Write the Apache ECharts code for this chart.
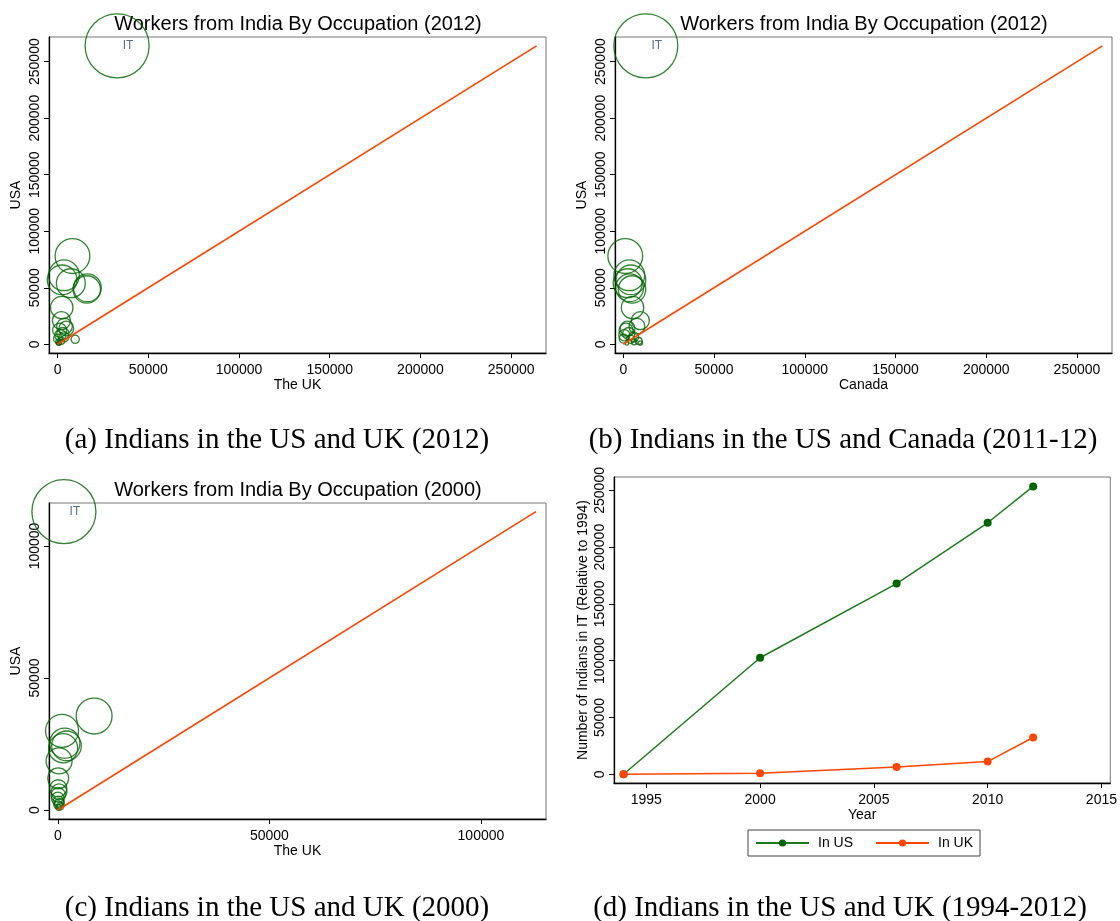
<!DOCTYPE html>
<html><head><meta charset="utf-8">
<script src="https://cdn.jsdelivr.net/npm/echarts@6/dist/echarts.min.js"></script>
<style>html,body{margin:0;padding:0;background:#fff}#c{width:1120px;height:921px}</style>
</head><body><div id="c"></div>
<script>
// ---------- DATA ----------
// 2012 occupations (first = IT)
const occ2012Labels = ['IT','','','','','','','','','','','','','','','','','','','',''];
const us2012     = [264000, 78000, 61000, 57000, 54000, 50000, 48500, 32500, 21000, 16000, 14000, 12500, 9500, 8000, 6500, 5000, 4400, 3000, 2000, 1200, 800];
const uk2012     = [32800, 8200, 3500, 2500, 7300, 16400, 16100, 2300, 2100, 3800, 4800, 1100, 2900, 1500, 3500, 200, 9700, 2000, 500, 1000, 300];
const canada2012 = [12400, 1100, 3300, 4200, 2400, 3500, 4800, 5100, 9400, 7500, 2400, 1500, 3000, 600, 5700, 200, 4000, 8500, 6000, 9400, 2000];
// 2000 occupations (first = IT)
const occ2000Labels = ['IT','','','','','','','','','','','','','','','',''];
const us2000 = [113000, 35600, 30000, 25300, 24300, 23400, 18600, 12000, 8200, 6900, 5700, 4400, 3200, 1900, 900, 2600, 1400];
const uk2000 = [1440, 8580, 1000, 1650, 2050, 1250, 300, 100, 100, 300, 100, 0, 150, 50, 200, 400, 600];
// IT workers over time (relative to 1994)
const years = [1994, 2000, 2006, 2010, 2012];
const itInUS = [0, 102600, 167900, 221500, 253500];
const itInUK = [0, 900, 6500, 11200, 32400];
// tick labels
const ticks2012 = [0, 50000, 100000, 150000, 200000, 250000];
const ticks2000 = [0, 50000, 100000];
const yearTicks = [1995, 2000, 2005, 2010, 2015];
const itTicks = [0, 50000, 100000, 150000, 200000, 250000];

// ---------- STYLE ----------
const SANS = "'Liberation Sans', Arial, sans-serif";
const SERIF = "'Liberation Serif', 'Times New Roman', serif";
const GREEN = '#006400';
const ORANGE = '#ff4500';

function axis(gridIndex, min, max, ticks, name, isY, nameGap) {
  return {
    type: 'value', gridIndex, min, max, name, nameLocation: 'middle', nameGap,
    nameTextStyle: { fontSize: 14, color: '#000', fontFamily: SANS },
    axisLine: { show: true, onZero: false, lineStyle: { color: '#000', width: 1.3 } },
    axisTick: { show: true, length: 5, customValues: ticks, lineStyle: { color: '#000', width: 1 } },
    axisLabel: { customValues: ticks, fontSize: 14, color: '#000', fontFamily: SANS,
                 rotate: isY ? 90 : 0, margin: isY ? 7 : 10, formatter: v => String(v) },
    splitLine: { show: false }
  };
}

function bubbles(xIdx, xs, ys, labels) {
  const maxY = Math.max(...ys);
  return {
    type: 'scatter', xAxisIndex: xIdx, yAxisIndex: xIdx, clip: false, silent: true, z: 3,
    data: ys.map((v, i) => [xs[i], v]),
    symbol: 'circle',
    symbolSize: val => 64 * Math.sqrt(val[1] / maxY),
    itemStyle: { color: 'rgba(0,0,0,0)', borderColor: GREEN, borderWidth: 1.3 },
    label: { show: true, position: 'inside', offset: [11, 0], fontSize: 12, color: '#2b4a6b',
             fontFamily: SANS, formatter: p => labels[p.dataIndex] }
  };
}

function diag(idx, ys) {
  const m = Math.max(...ys);
  return { type: 'line', xAxisIndex: idx, yAxisIndex: idx, data: [[0, 0], [m, m]], symbol: 'none',
           clip: false, silent: true, z: 4, lineStyle: { color: ORANGE, width: 1.6 } };
}

const gridStyle = { show: true, borderColor: '#777', borderWidth: 1, backgroundColor: '#fff' };

function txt(x, y, text, font) {
  return { type: 'text', x, y, style: { text, font, fill: '#000', textAlign: 'center', textVerticalAlign: 'middle' } };
}

const option = {
  backgroundColor: '#fff',
  animation: false,
  grid: [
    Object.assign({ left: 49, top: 37, width: 497, height: 316 }, gridStyle),
    Object.assign({ left: 615, top: 37, width: 497, height: 316 }, gridStyle),
    Object.assign({ left: 49, top: 503, width: 497, height: 316 }, gridStyle),
    Object.assign({ left: 614, top: 477, width: 498, height: 306 }, gridStyle)
  ],
  xAxis: [
    axis(0, -4740, 269200, ticks2012, 'The UK', false, 25),
    axis(1, -4570, 269300, ticks2012, 'Canada', false, 25),
    axis(2, -2080, 115380, ticks2000, 'The UK', false, 25),
    axis(3, 1993.58, 2015.39, yearTicks, 'Year', false, 24)
  ],
  yAxis: [
    axis(0, -7700, 271800, ticks2012, 'USA', true, 26),
    axis(1, -7700, 271800, ticks2012, 'USA', true, 26),
    axis(2, -3410, 116290, ticks2000, 'USA', true, 26),
    axis(3, -7700, 261800, itTicks, 'Number of Indians in IT (Relative to 1994)', true, 24)
  ],
  legend: {
    data: ['In US', 'In UK'], left: 748, top: 830, orient: 'horizontal',
    itemWidth: 53, itemHeight: 9, itemGap: 22, padding: [6, 7, 6, 7],
    borderColor: '#444', borderWidth: 1,
    textStyle: { fontSize: 14, color: '#000', fontFamily: SANS, padding: [0, 0, 0, 4] }
  },
  series: [
    diag(0, us2012), bubbles(0, uk2012, us2012, occ2012Labels),
    diag(1, us2012), bubbles(1, canada2012, us2012, occ2012Labels),
    diag(2, us2000), bubbles(2, uk2000, us2000, occ2000Labels),
    { name: 'In US', type: 'line', xAxisIndex: 3, yAxisIndex: 3, data: years.map((y, i) => [y, itInUS[i]]),
      symbol: 'circle', symbolSize: 8, itemStyle: { color: '#006400' }, lineStyle: { color: '#1f7a1f', width: 1.5 } },
    { name: 'In UK', type: 'line', xAxisIndex: 3, yAxisIndex: 3, data: years.map((y, i) => [y, itInUK[i]]),
      symbol: 'circle', symbolSize: 8, itemStyle: { color: ORANGE }, lineStyle: { color: ORANGE, width: 1.5 } }
  ],
  graphic: [
    txt(298, 24, 'Workers from India By Occupation (2012)', '20px ' + SANS),
    txt(864, 24, 'Workers from India By Occupation (2012)', '20px ' + SANS),
    txt(298, 490, 'Workers from India By Occupation (2000)', '20px ' + SANS),
    txt(277, 440, '(a) Indians in the US and UK (2012)', '29px ' + SERIF),
    txt(843, 440, '(b) Indians in the US and Canada (2011-12)', '29px ' + SERIF),
    txt(277, 908, '(c) Indians in the US and UK (2000)', '29px ' + SERIF),
    txt(840, 908, '(d) Indians in the US and UK (1994-2012)', '29px ' + SERIF)
  ]
};
echarts.init(document.getElementById('c'), null, { renderer: 'canvas' }).setOption(option);
</script></body></html>
